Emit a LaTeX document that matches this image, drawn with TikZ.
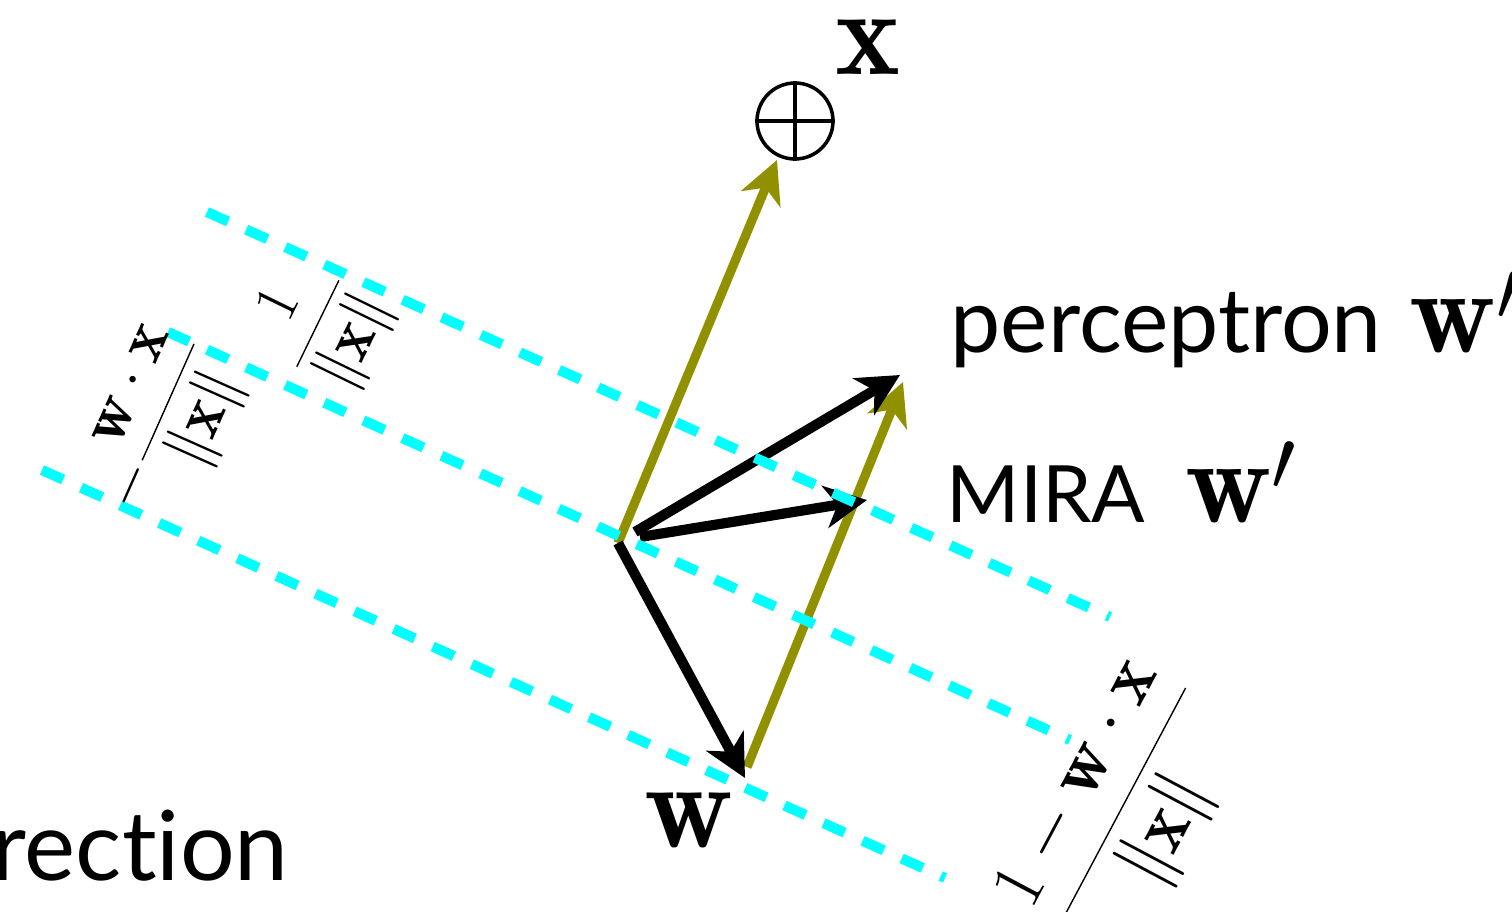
\documentclass[tikz,border=0pt]{standalone}
\usepackage{fontspec}
\newfontfamily\gillsans[Ligatures=NoCommon]{Lato}
\usetikzlibrary{arrows.meta}
\definecolor{vecolive}{RGB}{145,145,0}
\definecolor{planecyan}{RGB}{0,255,255}
\newcommand{\wprime}{{\fontsize{34}{36}\selectfont$\mathbf{w}'$}}
\begin{document}
\begin{tikzpicture}[
  vec/.style={line width=2.9pt,-{Stealth[length=12pt,width=12pt,inset=3.5pt]}},
  shiftvec/.style={vec,vecolive,line width=2.6pt},
  plane/.style={planecyan,line width=2.9pt,dash pattern=on 6.6pt off 5.6pt},
  fraclab/.style={rotate=66,inner sep=0pt},
  biglab/.style={inner sep=0pt,font=\fontsize{35}{36}\selectfont},
  sanslab/.style={anchor=base west,inner sep=0pt,font=\gillsans\fontsize{25.5}{27}\selectfont}
]
  \useasboundingbox (0,0) rectangle (15.12,9.11);
  \coordinate (o) at (6.18,3.68);
  \coordinate (w) at (7.45,1.33);
  \coordinate (xtip) at (7.77,7.51);
  \coordinate (wtail) at (7.47,1.44);
  \coordinate (wx) at (9.03,5.29);
  \coordinate (ptail) at (6.35,3.79);
  \coordinate (perc) at (9.00,5.36);
  \coordinate (mtail) at (6.40,3.74);
  \coordinate (mira) at (8.67,4.11);
  \node[circle,draw,line width=1pt,minimum size=0.76cm,inner sep=0pt] (xpt) at (7.95,7.90) {};
  \draw[line width=1pt] (xpt.north) -- (xpt.south);
  \draw[line width=1pt] (xpt.west) -- (xpt.east);
  \node[biglab] (xlab) at (8.68,8.64) {$\mathbf{x}$};
  \node[biglab] (wlab) at (6.89,0.91) {$\mathbf{w}$};
  % x and x added at the tip of w
  \draw[shiftvec] (o) -- (xtip);
  \draw[shiftvec] (wtail) -- (wx);
  \draw[vec] (o) -- (w);
  \draw[vec] (ptail) -- (perc);
  \draw[vec] (mtail) -- (mira);
  % lines w.x = const
  \coordinate (a1) at (2.07,6.99); \coordinate (a2) at (11.10,2.94);
  \coordinate (b1) at (1.68,5.79); \coordinate (b2) at (10.70,1.71);
  \coordinate (c1) at (0.42,4.41); \coordinate (c2) at (9.45,0.33);
  \draw[plane] (a1) -- (a2);
  \draw[plane] (b1) -- (b2);
  \draw[plane] (c1) -- (c2);
  \node[fraclab,rotate=-2,font=\fontsize{19}{20}\selectfont] (f1) at (3.21,5.86)
    {$\displaystyle\frac{1}{\|\mathbf{x}\|}$};
  \node[fraclab,font=\fontsize{19}{20}\selectfont] (f2) at (1.66,4.84)
    {$\displaystyle-\frac{\mathbf{w}\cdot\mathbf{x}}{\|\mathbf{x}\|}$};
  \node[fraclab,rotate=-4,font=\fontsize{21.5}{23}\selectfont] (f3) at (11.26,1.02)
    {$\displaystyle\frac{1-\mathbf{w}\cdot\mathbf{x}}{\|\mathbf{x}\|}$};
  \node[sanslab] (perclab) at (9.50,5.59) {perceptron\hspace{0.28cm}\wprime};
  \node[sanslab,font=\gillsans\fontsize{22.5}{24}\selectfont] (miralab) at (9.46,3.89)
    {MIRA\hspace{0.40cm}\wprime};
  \node[sanslab,font=\gillsans\fontsize{27.5}{29}\selectfont] (corr) at (-0.09,0.31) {rection};
\end{tikzpicture}
\end{document}
